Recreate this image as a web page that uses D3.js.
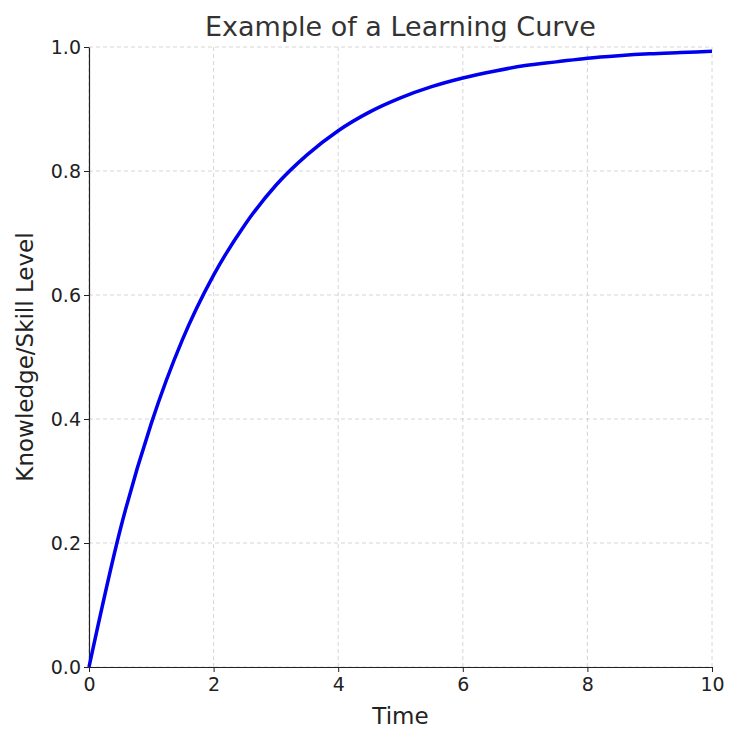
<!DOCTYPE html>
<html><head><meta charset="utf-8">
<script src="https://cdn.jsdelivr.net/npm/d3@7"></script>
<style>body{margin:0;background:#fff}svg{font-family:"DejaVu Sans",sans-serif}</style>
</head><body>
<svg id="c" width="740" height="742"></svg>
<script>
const times = [0,0.5,1,1.5,2,2.5,3,3.5,4,4.5,5,5.5,6,6.5,7,7.5,8,8.5,9,9.5,10];
const levels = [0,0.221,0.393,0.528,0.632,0.713,0.777,0.826,0.865,0.895,0.918,0.936,0.950,0.961,0.970,0.976,0.982,0.986,0.989,0.991,0.993];
const xTicks = [0,2,4,6,8,10];
const yTicks = [0,0.2,0.4,0.6,0.8,1.0];

const svg = d3.select("#c");
const L=89,R=712,T=47,B=667;
const x = d3.scaleLinear().domain([0,10]).range([L,R]);
const y = d3.scaleLinear().domain([0,1]).range([B,T]);

const g = svg.append("g");
g.selectAll(".gx").data(xTicks).join("line").attr("x1",d=>x(d)).attr("x2",d=>x(d)).attr("y1",T).attr("y2",B)
 .attr("stroke","#ccc").attr("stroke-dasharray","4,3").attr("stroke-width",0.8);
g.selectAll(".gy").data(yTicks).join("line").attr("y1",d=>y(d)).attr("y2",d=>y(d)).attr("x1",L).attr("x2",R)
 .attr("stroke","#ccc").attr("stroke-dasharray","4,3").attr("stroke-width",0.8);

const xa = svg.append("g").attr("transform",`translate(0,${B})`).call(d3.axisBottom(x).tickValues(xTicks).tickSize(5).tickSizeOuter(0));
const ya = svg.append("g").attr("transform",`translate(${L},0)`).call(d3.axisLeft(y).tickValues(yTicks).tickFormat(d3.format(".1f")).tickSize(5).tickSizeOuter(0));
[xa,ya].forEach(a=>{a.attr("font-size",null).attr("font-family",null);a.selectAll("text").style("font-size","19px").style("fill","#222");a.select(".domain").attr("stroke","#222").attr("stroke-width",1.2);a.selectAll(".tick line").attr("stroke","#222");});
xa.selectAll("text").attr("dy","0.85em");

svg.append("path").datum(times.map((t,i)=>[t,levels[i]]))
 .attr("d",d3.line().x(d=>x(d[0])).y(d=>y(d[1])).curve(d3.curveMonotoneX))
 .attr("fill","none").attr("stroke","#0000ee").attr("stroke-width",3.5);

svg.append("text").attr("x",(L+R)/2).attr("y",36).attr("text-anchor","middle").style("font-size","27px").attr("fill","#333").text("Example of a Learning Curve");
svg.append("text").attr("x",(L+R)/2).attr("y",724).attr("text-anchor","middle").style("font-size","23px").attr("fill","#222").text("Time");
svg.append("text").attr("transform",`translate(33,${(T+B)/2}) rotate(-90)`).attr("text-anchor","middle").style("font-size","23px").attr("fill","#222").text("Knowledge/Skill Level");
</script></body></html>
